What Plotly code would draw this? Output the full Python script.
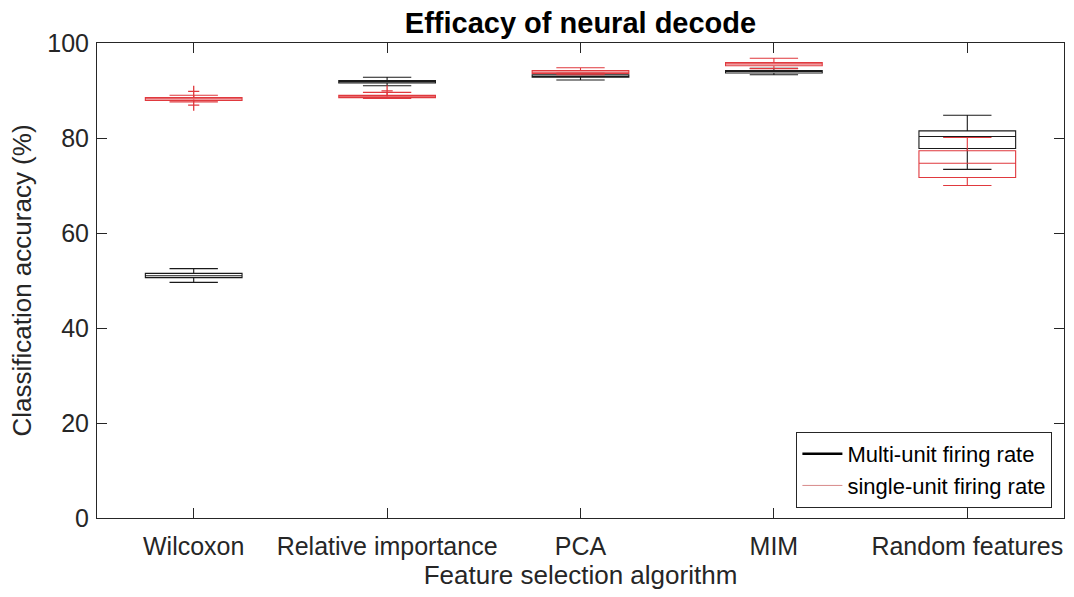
import plotly.graph_objects as go

categories = ["Wilcoxon", "Relative importance", "PCA", "MIM", "Random features"]
positions = [1, 2, 3, 4, 5]

# Multi-unit firing rate (black)
multi_lower = [49.6, 91.0, 92.2, 93.3, 73.4]
multi_q1 = [50.6, 91.6, 92.8, 93.7, 77.8]
multi_median = [51.0, 91.9, 93.0, 94.0, 80.3]
multi_q3 = [51.5, 92.1, 93.3, 94.2, 81.5]
multi_upper = [52.5, 92.8, 93.6, 94.7, 84.8]

# Single-unit firing rate (red)
single_lower = [87.6, 88.3, 93.3, 94.6, 70.0]
single_q1 = [87.9, 88.5, 93.6, 95.2, 71.7]
single_median = [88.2, 88.8, 93.9, 95.6, 74.7]
single_q3 = [88.5, 89.0, 94.2, 95.9, 77.3]
single_upper = [89.0, 89.6, 94.8, 96.8, 80.1]

# Outliers of single-unit firing rate
single_out_x = [1, 1, 2]
single_out_y = [89.8, 86.9, 89.9]

BLACK = "#1a1a1a"
RED = "#e0393e"

fig = go.Figure()

fig.add_trace(go.Box(
    x=positions, q1=multi_q1, median=multi_median, q3=multi_q3,
    lowerfence=multi_lower, upperfence=multi_upper,
    width=0.5, whiskerwidth=0.5,
    line=dict(color=BLACK, width=1.1), fillcolor="rgba(0,0,0,0)",
    showlegend=False, boxpoints=False,
))
fig.add_trace(go.Box(
    x=positions, q1=single_q1, median=single_median, q3=single_q3,
    lowerfence=single_lower, upperfence=single_upper,
    width=0.5, whiskerwidth=0.5,
    line=dict(color=RED, width=1.1), fillcolor="rgba(0,0,0,0)",
    showlegend=False, boxpoints=False,
))
fig.add_trace(go.Scatter(
    x=single_out_x, y=single_out_y, mode="markers",
    marker=dict(symbol="cross-thin", size=8, line=dict(color=RED, width=1.3)),
    showlegend=False,
))

# legend entries
fig.add_trace(go.Scatter(x=[None], y=[None], mode="lines",
                         line=dict(color="black", width=2.5),
                         name="Multi-unit firing rate"))
fig.add_trace(go.Scatter(x=[None], y=[None], mode="lines",
                         line=dict(color="#d88a8a", width=1),
                         name="single-unit firing rate"))

axis_common = dict(
    showline=True, linecolor="#262626", linewidth=1, mirror="ticks",
    ticks="inside", ticklen=10, tickcolor="#262626", showgrid=False,
    zeroline=False, tickfont=dict(size=25, color="#262626"),
)

fig.update_layout(
    width=1074, height=597,
    margin=dict(l=97, r=10, t=43, b=79),
    paper_bgcolor="white", plot_bgcolor="white",
    font=dict(family="Liberation Sans, Arial, sans-serif", color="#262626"),
    title=dict(text="<b>Efficacy of neural decode</b>", x=0.5405, xanchor="center",
               y=0.962, yanchor="middle", font=dict(size=29, color="black")),
    boxmode="overlay",
    xaxis=dict(range=[0.5, 5.5], tickvals=positions, ticktext=categories,
               ticklabelstandoff=6,
               title=dict(text="Feature selection algorithm", font=dict(size=26), standoff=4),
               **axis_common),
    yaxis=dict(range=[0, 100], tickvals=[0, 20, 40, 60, 80, 100],
               ticklabelstandoff=2,
               title=dict(text="Classification accuracy (%)", font=dict(size=26), standoff=8),
               **axis_common),
    legend=dict(x=0.988, xanchor="right", y=0.021, yanchor="bottom",
                bordercolor="#262626", borderwidth=1, bgcolor="white",
                font=dict(size=22, color="black"), tracegroupgap=0,
                itemwidth=40),
)

fig.write_html("out.html")
